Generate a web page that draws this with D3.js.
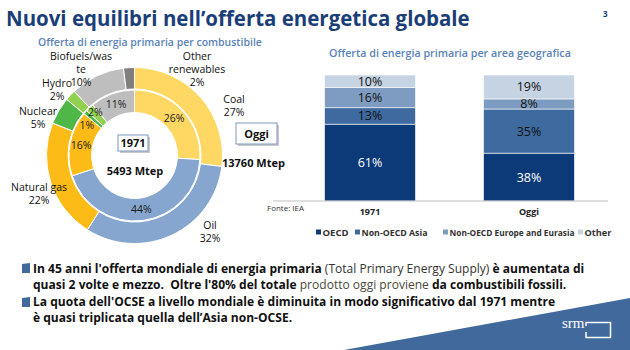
<!DOCTYPE html>
<html><head><meta charset="utf-8">
<script src="https://cdn.jsdelivr.net/npm/d3@7"></script>
<style>body{margin:0;background:#fff} svg{display:block} text{font-family:'Open Sans',sans-serif}</style>
</head><body><svg id="c" width="630" height="350"></svg>
<script>
// ---------- data ----------
const fuels = ["Coal","Oil","Natural gas","Nuclear","Hydro","Biofuels/waste","Other renewables"];
const share1971 = [26,44,16,1,2,11,0];
const shareOggi = [27,32,22,5,2,10,2];
const total1971 = "5493 Mtep";
const totalOggi = "13760 Mtep";
const periods = ["1971","Oggi"];
const regions = ["OECD","Non-OECD Asia","Non-OECD Europe and Eurasia","Other"];
const regionShare1971 = [61,13,16,10];
const regionShareOggi = [38,35,8,19];
const titleText = "Nuovi equilibri nell\u2019offerta energetica globale";
const subtitleLeft = "Offerta di energia primaria per combustibile";
const subtitleRight = "Offerta di energia primaria per area geografica";
const sourceText = "Fonte: IEA";

// ---------- styles ----------
const fuelColors = ["#FED862","#86A6D0","#FDBB17","#4FB748","#92D050","#BEBEBE","#7F7F7F"];
const regionColors = ["#0C3A78","#3E6A9F","#7E9CC1","#C6D3E3"];
const regionLabelColors = ["#fff","#111","#111","#111"];
const dark = "#1A3E78", sub = "#5A83B9";

const svg = d3.select("#c");

function fit(sel, w){ // scale font-size so text spans w pixels
  const n = sel.node(); const fs = parseFloat(sel.attr("font-size"));
  const cur = n.getComputedTextLength(); sel.attr("font-size", (fs*w/cur).toFixed(2));
}

// title
fit(svg.append("text").attr("x",6).attr("y",26).attr("font-size",19).attr("font-weight",700)
   .attr("fill",dark).text(titleText), 464);
svg.append("text").attr("x",603).attr("y",17).attr("font-size",8).attr("font-weight",700)
   .attr("fill",dark).text("3");

// ---------- donut ----------
const cx = 134.5, cy = 155.5;
const pie = d3.pie().sort(null).value(d=>d);
const arcOuter = d3.arc().innerRadius(66.5).outerRadius(88);
const arcInner = d3.arc().innerRadius(43).outerRadius(65.5);
const gD = svg.append("g").attr("transform",`translate(${cx},${cy})`);
const pOggi = pie(shareOggi), p1971 = pie(share1971);
gD.selectAll("path.o").data(pOggi).join("path").attr("class","o")
  .attr("d",arcOuter).attr("fill",(d,i)=>fuelColors[i]).attr("stroke","#fff").attr("stroke-width",1);
gD.selectAll("path.i").data(p1971.filter(d=>d.value>0)).join("path").attr("class","i")
  .attr("d",arcInner).attr("fill",d=>fuelColors[d.index]).attr("stroke","#fff").attr("stroke-width",1);

// inner labels (1971)
const innerNudge = {3:[-7,6], 4:[-2,-4]};
gD.selectAll("text.il").data(p1971.filter(d=>d.value>0)).join("text").attr("class","il")
  .attr("transform",d=>{const c=arcInner.centroid(d); const n=innerNudge[d.index]||[0,0]; return `translate(${c[0]+n[0]},${c[1]+n[1]})`;})
  .attr("text-anchor","middle").attr("dy","0.35em").attr("font-size",10.5).attr("fill","#1a1a1a")
  .text(d=>d.value+"%");

// outer labels (Oggi) – layout: block centre offsets relative to donut centre
const outerLabelLayout = [
  {lines:["Coal"], at:[99.5,-56.5]},
  {lines:["Oil"], at:[75.5,69.5]},
  {lines:["Natural gas"], at:[-95.5,31.5]},
  {lines:["Nuclear"], at:[-96.5,-44.5]},
  {lines:["Hydro"], at:[-77.5,-72.5]},
  {lines:["Biofuels/was","te"], at:[-53.5,-99.5]},
  {lines:["Other","renewables"], at:[62.5,-99.5]}
];
pOggi.forEach((d,i)=>{
  const L = outerLabelLayout[i];
  const lines = L.lines.concat([d.value+"%"]);
  const t = gD.append("text").attr("text-anchor","middle").attr("font-size",10.5).attr("fill","#111");
  lines.forEach((s,k)=>t.append("tspan").attr("x",L.at[0]).attr("y",L.at[1]+k*13+4).text(s));
});

// centre boxes & totals
function box(x,y,w,h,label){
  svg.append("rect").attr("x",x+2).attr("y",y+2).attr("width",w).attr("height",h).attr("fill","#c9c9c9");
  svg.append("rect").attr("x",x).attr("y",y).attr("width",w).attr("height",h).attr("fill","#fff")
     .attr("stroke","#7C98C2").attr("stroke-width",1);
  svg.append("text").attr("x",x+w/2).attr("y",y+h/2+4).attr("text-anchor","middle")
     .attr("font-size",11).attr("font-weight",700).attr("fill","#111").text(label);
}
box(118,135,30,16,periods[0]);
box(236,123,41,21,periods[1]);
svg.append("text").attr("x",cx+0.5).attr("y",175).attr("text-anchor","middle").attr("font-size",11)
   .attr("font-weight",700).attr("fill","#111").text(total1971);
svg.append("text").attr("x",222).attr("y",167).attr("font-size",11)
   .attr("font-weight",700).attr("fill","#111").text(totalOggi);

fit(svg.append("text").attr("x",38).attr("y",46).attr("font-size",10).attr("font-weight",600)
   .attr("fill",sub).text(subtitleLeft), 224);

// ---------- stacked bars ----------
fit(svg.append("text").attr("x",329).attr("y",57).attr("font-size",10.5).attr("font-weight",600)
   .attr("fill",sub).text(subtitleRight), 242);

const x = d3.scaleBand().domain(periods).range([291,608]).paddingInner(0.428).paddingOuter(0.211);
const y = d3.scaleLinear().domain([0,100]).range([201,75]);
const series = [regionShare1971, regionShareOggi];
const stackData = periods.map((p,pi)=>{const o={period:p}; regions.forEach((r,ri)=>o[r]=series[pi][ri]); return o;});
const stacked = d3.stack().keys(regions)(stackData);
const gB = svg.append("g");
stacked.forEach((s,si)=>{
  gB.selectAll(null).data(s).join("rect")
    .attr("x",d=>x(d.data.period)).attr("width",x.bandwidth())
    .attr("y",d=>y(d[1])).attr("height",d=>y(d[0])-y(d[1]))
    .attr("fill",regionColors[si]).attr("stroke","#fff").attr("stroke-width",0.6);
  gB.selectAll(null).data(s).join("text")
    .attr("x",d=>x(d.data.period)+x.bandwidth()/2).attr("y",d=>(y(d[0])+y(d[1]))/2)
    .attr("dy","0.36em").attr("text-anchor","middle").attr("font-size",12.5)
    .attr("fill",regionLabelColors[si]).text(d=>(d[1]-d[0])+"%");
});
// axis
const xAxis = svg.append("g").attr("transform","translate(0,201)").call(d3.axisBottom(x).tickSize(0).tickPadding(8));
xAxis.select(".domain").remove();
xAxis.selectAll("text").attr("font-size",9).attr("font-weight",700).attr("fill","#222")
  .style("font-family","'Open Sans',sans-serif");
svg.append("line").attr("x1",273).attr("x2",608).attr("y1",201).attr("y2",201).attr("stroke","#BFBFBF").attr("stroke-width",1);
svg.append("text").attr("x",267).attr("y",211).attr("font-size",8).attr("fill","#333").text(sourceText);

// legend
const legendX = [316,355,443,578];
const legendW = [26,66,125,27];
regions.forEach((r,i)=>{
  svg.append("rect").attr("x",legendX[i]).attr("y",229.5).attr("width",5).attr("height",5).attr("fill",regionColors[i]);
  fit(svg.append("text").attr("x",legendX[i]+6.5).attr("y",235.5).attr("font-size",8.5).attr("font-weight",700)
     .attr("fill","#333").text(r), legendW[i]);
});

// ---------- bottom ----------
svg.append("polygon").attr("points","344,350 630,298 630,350").attr("fill","#41699C");
svg.append("text").attr("x",562).attr("y",328).attr("font-size",15).attr("fill","#fff")
   .style("font-family","'Liberation Serif',serif").text("srm");
svg.append("path").attr("d","M586,326 V322.5 H610.5 V337.5 H586 V332").attr("fill","none")
   .attr("stroke","#fff").attr("stroke-width",1.5);

const bulletLines = [
  [[ "In 45 anni l'offerta mondiale di energia primaria ",700,"#111"],["(Total Primary Energy Supply) ",400,"#333"],["è aumentata di",700,"#111"]],
  [[ "quasi 2 volte e mezzo.  Oltre l'80% del totale ",700,"#111"],["prodotto oggi proviene ",400,"#4a4a3a"],["da combustibili fossili.",700,"#111"]],
  [[ "La quota dell'OCSE a livello mondiale è diminuita in modo significativo dal 1971 mentre",700,"#111"]],
  [[ "è quasi triplicata quella dell\u2019Asia non-OCSE.",700,"#111"]]
];
const bulletY = [273,289,306,322];
let fsB = 12;
bulletLines.forEach((ln,i)=>{
  const t = svg.append("text").attr("x",33).attr("y",bulletY[i]).attr("font-size",fsB).attr("xml:space","preserve");
  ln.forEach(s=>t.append("tspan").attr("font-weight",s[1]).attr("fill",s[2]).text(s[0]));
  if(i===0){ fit(t,552); fsB = parseFloat(t.attr("font-size")); }
});
[263,297].forEach(by=>svg.append("path").attr("d",`M22,${by+1} L30,${by} L30,${by+10} L22,${by+10} Z`).attr("fill","#41699C"));
</script></body></html>
